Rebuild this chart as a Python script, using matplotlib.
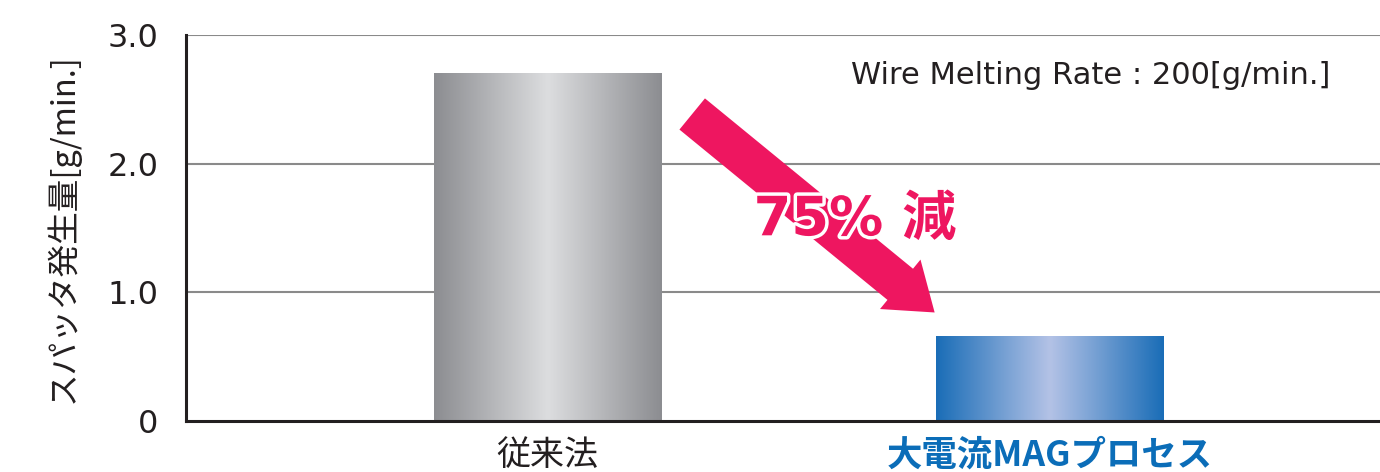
import numpy as np
import matplotlib.pyplot as plt
import matplotlib.patheffects as pe
from matplotlib.colors import LinearSegmentedColormap
from matplotlib.patches import FancyArrowPatch

categories = ['従来法', '大電流MAGプロセス']
spatter = [2.70, 0.66]
label_colors = ['#231f20', '#0b6db8']
bar_edges = ['#8c8d91', '#1a6db7']
bar_centers = ['#dcdddf', '#b3c2e6']
yticks = [0, 1.0, 2.0, 3.0]
ytick_labels = ['0', '1.0', '2.0', '3.0']
reduction_text = '75% 減'
note = 'Wire Melting Rate : 200[g/min.]'

plt.rcParams['font.family'] = ['Noto Sans CJK JP', 'DejaVu Sans']
latin_first = ['DejaVu Sans', 'Noto Sans CJK JP']

fig = plt.figure(figsize=(13.8, 4.72), dpi=100)
ax = fig.add_axes([0.1348, 0.108, 0.8652, 0.8178])

bar_w = 0.452
x = np.arange(len(categories))
grad = np.abs(np.linspace(-1, 1, 256))[None, :]
for xi, h, ce, cc in zip(x, spatter, bar_edges, bar_centers):
    cmap = LinearSegmentedColormap.from_list('g', [cc, ce])
    ax.imshow(grad, cmap=cmap, aspect='auto', zorder=2,
              extent=(xi - bar_w / 2, xi + bar_w / 2, 0, h))

ax.set_xlim(-0.719, 1.657)
ax.set_ylim(0, 3.0)
ax.set_yticks(yticks)
ax.set_yticklabels(ytick_labels, fontsize=23, color='#231f20', family=latin_first)
ax.set_xticks(x)
ax.set_xticklabels(categories, fontsize=24.5)
for t, c in zip(ax.get_xticklabels(), label_colors):
    t.set_color(c)
ax.get_xticklabels()[1].set_fontweight('bold')
ax.get_xticklabels()[1].set_fontsize(25.5)
ax.tick_params(axis='x', length=0, pad=12)
ax.tick_params(axis='y', length=0, pad=20)

for yv in yticks[1:]:
    ax.axhline(yv, color='#8a8a8a', lw=1.5, zorder=1)
for s in ['top', 'right']:
    ax.spines[s].set_visible(False)
for s in ['left', 'bottom']:
    ax.spines[s].set_linewidth(2.2)
    ax.spines[s].set_color('#231f20')

ax.set_ylabel('スパッタ発生量[g/min.]', fontsize=23.5, color='#231f20', labelpad=20)

# reduction arrow from bar 1 top towards bar 2 top
arr = FancyArrowPatch((0.284, 2.40), (0.775, 0.83),
                      arrowstyle='simple,tail_width=2.9,head_width=4.6,head_length=3.2',
                      mutation_scale=10, color='#ee1660', lw=0, zorder=4)
ax.add_patch(arr)
ax.text(0.612, 1.56, reduction_text, fontsize=39, fontweight='bold', color='#ee1660',
        ha='center', va='center', zorder=5, family=latin_first,
        path_effects=[pe.withStroke(linewidth=5, foreground='white')])

ax.text(0.605, 2.62, note, fontsize=22, color='#231f20', ha='left', va='baseline',
        zorder=5, clip_on=False, family=latin_first)

fig.savefig('out.png', dpi=100)
